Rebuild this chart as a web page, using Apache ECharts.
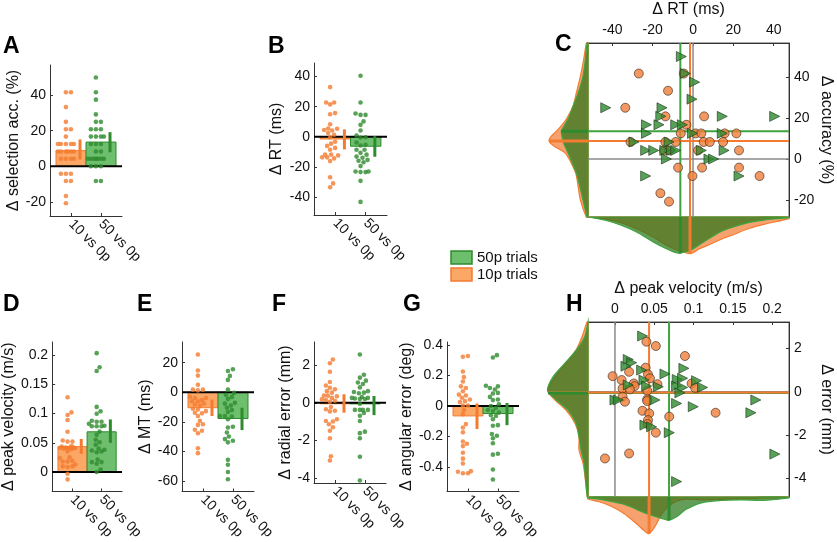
<!DOCTYPE html>
<html><head><meta charset="utf-8">
<script src="https://cdn.jsdelivr.net/npm/echarts@6/dist/echarts.min.js"></script>
<style>html,body{margin:0;padding:0;background:#fff}#c{width:837px;height:542px}</style>
</head><body><div id="c"></div>
<script>
// ---------- categories / labels ----------
const xCats = ['10 vs 0p', '50 vs 0p'];
const xCatPos = [1, 2];
const legendLabels = ['50p trials', '10p trials'];
const panelLetters = ['A', 'B', 'C', 'D', 'E', 'F', 'G', 'H'];

// ---------- Panel C data (ΔRT, Δaccuracy) ----------
const rt10 = [-26.9, -4.6, -12.4, -33.6, -13.7, 5.5, -3.3, -6.1, 1.3, 4.1, 15.7, 21.5, -31, -13.7, -8.6, 5.3, 8.3, 14.9, -14.4, -11.9, 2.5, 22.8, -7.4, 4.5, 22.8, -0.3, 33, -16.2, -11.9];
const acc10 = [41.7, 41.7, 33.3, 25, 20.8, 20.8, 16.7, 12.5, 12.5, 12.5, 12.5, 12.5, 8.3, 8.3, 8.3, 8.3, 8.3, 8.3, 4.2, 4.2, 4.2, 4.2, -4.2, -4.2, -4.2, -8.3, -8.3, -16.7, -20.8];
const rt50 = [-5.8, -3.8, 0.8, -0.5, -43.3, -15.4, -16, 14.5, 40.5, -23.1, -16.9, -8.6, -5.3, -23.1, -0.3, 14.5, -29.3, -11.9, -23.5, -19.5, -14, -10.7, -8.6, 4.1, 15.4, -13.2, 7.9, 10.2, -23.5, 22.8];
const acc50 = [50, 41.7, 37.5, 29.2, 25, 25, 20.8, 20.8, 20.8, 16.7, 16.7, 16.7, 16.7, 12.5, 12.5, 12.5, 8.3, 8.3, 4.2, 4.2, 4.2, 4.2, 4.2, 4.2, 4.2, 0, 0, 0, -8.3, -8.3];
const meanAcc = [8.8, 13.6];
const meanRT = [-1.5, -6.3];
const errAcc10 = [3.8, 15.1];
const errAcc50 = [7.9, 19.2];
const errRT10 = [-8.4, 4.9];
const errRT50 = [-13.3, 0.4];

// ---------- Panel H data (Δpeak velocity, Δerror) ----------
const pv10 = [0.040, 0.052, 0.089, -0.003, 0.039, 0.018, 0.0085, 0.042, 0.0445, 0.024, 0.025, 0.0097, 0.019, 0.054, 0.0975, 0.102, 0.041, 0.0097, 0.0127, 0.041, 0.041, 0.035, 0.0436, 0.069, 0.042, 0.0415, 0.052, 0.128, 0.018, -0.0127];
const err10 = [2.31, 2.11, 1.65, 0.72, 1.11, 0.92, 0.54, 0.8, 0.62, 0.38, 0.26, 0.15, 0.11, 0.35, 0.38, 0.18, 0.05, -0.23, -0.46, -0.35, -0.43, -0.88, -1.0, -1.15, -1.31, -1.49, -1.89, -0.97, -2.85, -3.08];
const pv50 = [0.0352, 0.0169, 0.0212, 0.014, 0.0339, 0.0877, 0.0636, 0.0792, 0.086, 0.0369, 0.1038, 0.0169, 0.0403, 0.0551, 0.0784, 0.086, 0.1114, 0.0826, 0, 0.0042, 0.0508, 0.0784, 0.0996, 0.1792, 0.1729, 0.0381, 0.0466, 0.0691, 0.2034, 0.0784];
const err50 = [2.57, 1.49, 1.34, 1.18, 1.0, 1.08, 0.82, 0.57, 0.62, 0.54, 0.51, 0.31, 0.26, 0.23, 0.26, 0.2, 0.2, -0.05, -0.38, -0.38, -0.38, -0.54, -0.69, -0.38, -0.97, -1.54, -1.62, -1.89, -2.88, -4.15];
const meanPV = [0.0434, 0.0688];
const meanErr = [-0.03, -0.06];
const errPV10 = [0.031, 0.0565];
const errPV50 = [0.05, 0.09];
const errRad10 = [-0.53, 0.45];
const errRad50 = [-0.66, 0.36];

// ---------- Panel E data (ΔMT) ----------
const mt10 = [25.6, 14.7, 11.3, 5.1, 1.8, 1.8, 1.3, -3.8, -3.1, -3.8, -5.3, -6, -6, -8.2, -8.9, -7.6, -11.6, -11.1, -12.7, -13.8, -14.2, -16, -19.3, -21.6, -22, -25.3, -26, -27.6, -37.8, -41.1];
const mt50 = [15.6, 14.4, 11.1, 8.4, 1.8, -0.4, -1.6, -3.1, -4.4, -7.1, -8.9, -7.6, -10.4, -12, -13.3, -16, -16, -16.4, -18.2, -23.8, -23.3, -27.1, -29.8, -31.6, -32.7, -33.8, -45.6, -48.9, -53.8, -58.7];
const meanMT = [-10.4, -17.7];
const errMT10 = [-16, -4.9];
const errMT50 = [-25.5, -10.4];

// ---------- Panel G data (Δangular error) ----------
const ang10 = [0.327, 0.323, 0.226, 0.189, 0.161, 0.129, 0.118, 0.097, 0.075, 0.054, 0.069, 0.043, 0.032, 0.026, 0.004, 0.004, -0.026, -0.054, -0.118, -0.14, -0.172, -0.232, -0.247, -0.262, -0.305, -0.344, -0.376, -0.43, -0.44, -0.426, -0.44];
const ang50 = [0.333, 0.318, 0.118, 0.108, 0.133, 0.129, 0.082, 0.086, 0.06, 0.039, 0.043, 0.011, 0, -0.011, -0.026, -0.032, -0.043, -0.06, -0.065, -0.086, -0.125, -0.129, -0.183, -0.194, -0.211, -0.243, -0.312, -0.318, -0.415, -0.48];
const meanAng = [-0.0645, -0.049];
const errAng10 = [-0.15, 0.017];
const errAng50 = [-0.125, 0.02];

// ---------- marginal densities ----------
const densRtPos = [-52, -44, -36, -28, -20, -14, -8, -4, -1, 3, 8, 14, 20, 28, 36, 47.6];
const densRt10 = [0, 1.8, 5.5, 11.8, 19.8, 27.3, 33, 35.5, 36.5, 32, 27.7, 22.2, 17.7, 11.3, 6.8, 1.7];
const densRt50 = [0, 3, 8, 15, 24.7, 31, 36, 35, 33, 28, 21.5, 14.4, 10, 5.4, 2.8, 0.7];
const densAccPos = [56.6, 48, 40, 32, 26, 20, 16, 13.6, 11, 8.8, 6, 3, -2, -7, -13, -20, -28.3];
const densAcc10 = [1.5, 4.5, 7.8, 11.8, 14.8, 21, 27, 31.5, 36.8, 39, 33, 23, 16.7, 12.2, 10, 7.6, 1.7];
const densAcc50 = [1, 2.8, 5.2, 10, 14.8, 19.5, 24, 26.7, 26, 25, 22.8, 20, 15.7, 11.6, 8.4, 5, 1];
const densPvPos = [-0.0343, -0.02, -0.005, 0.01, 0.02, 0.03, 0.037, 0.043, 0.05, 0.056, 0.062, 0.068, 0.078, 0.09, 0.11, 0.135, 0.16, 0.19, 0.2214];
const densPv10 = [2, 4.8, 9.2, 15.7, 21.7, 28.5, 33.5, 36.7, 30.6, 21.9, 14.5, 9.3, 4.3, 2.1, 2.8, 2.3, 1.6, 1.0, 0.5];
const densPv50 = [1, 2.2, 4.3, 7, 9.8, 13.4, 15.6, 17.5, 19.2, 20.7, 22, 23.3, 20.1, 12.6, 5.8, 3.5, 3, 3.3, 1];
const densErrPos = [3.22, 2.54, 1.92, 1.31, 0.69, 0.23, 0, -0.38, -0.85, -1.46, -2.08, -2.69, -3.3, -3.92, -4.86];
const densErr10 = [1, 6, 12, 22, 33, 39, 40, 33, 22, 13, 9, 9, 5, 3, 0.7];
const densErr50 = [0, 3.3, 11.7, 23.3, 35, 40, 40, 31.7, 20, 12, 9, 7, 4, 2.7, 0.7];
const cBotMeanDepth = [36.5, 36.5];
const cLeftMeanDepth = [39, 26.7];
const hBotMeanDepth = [36.7, 23.3];
const hLeftMeanDepth = [40, 40];

// ---------- tick labels ----------
const ticksAcc = [-20, 0, 20, 40];
const ticksRT = [-40, -20, 0, 20, 40];
const ticksPV = [0, 0.05, 0.1, 0.15, 0.2];
const ticksMT = [-60, -40, -20, 0, 20];
const ticksRad = [-4, -2, 0, 2];
const ticksAng = [-0.4, -0.2, 0, 0.2, 0.4];

// ---------- styles ----------
const FONT = '"Liberation Sans", Arial, Helvetica, sans-serif';
const OR = '#F47B30', GR = '#2E8B2E';
const OR_BAR = '#FBA766', GR_BAR = '#6DBE6D';
const OR_LINE = '#F47B30', GR_LINE = '#3FA33F';
const OR_FILL = 'rgba(244,123,48,0.7)', GR_FILL = 'rgba(40,118,26,0.72)';

const grid = [], xAxis = [], yAxis = [], series = [];
function addGrid(r, extra) { grid.push(Object.assign({ left: r.left, top: r.top, width: r.width, height: r.height }, extra || {})); return grid.length - 1; }
const lbl = (m) => ({ color: '#111', fontSize: 14, fontFamily: FONT, margin: m });
const axLine = { show: true, onZero: false, lineStyle: { color: '#333', width: 1 } };
const tick = (vals) => ({ show: true, inside: true, length: 3, customValues: vals, lineStyle: { color: '#333' } });
const nameStyle = { fontSize: 16, color: '#111', fontFamily: FONT };

// horizontal spread of dots (plotSpread-like), limited to +/- maxOff px
function swarm(vals, center, yRange, hPx, xRange, wPx) {
  const ypp = yRange / hPx, xpp = xRange / wPx, d = 4.4, maxOff = 8;
  const order = vals.map((v, i) => i).sort((a, b) => vals[a] - vals[b]);
  const placed = []; const res = new Array(vals.length);
  order.forEach(i => {
    const y = vals[i] / ypp; let ox = null, bestO = 0, bestD = -1;
    for (let k = 0; k <= 2 * maxOff; k++) {
      const o = (k % 2 === 1 ? 1 : -1) * Math.ceil(k / 2);
      const md = placed.reduce((m, p) => Math.min(m, Math.hypot(p[0] - o, p[1] - y)), Infinity);
      if (md >= d) { ox = o; break; }
      if (md > bestD) { bestD = md; bestO = o; }
    }
    if (ox === null) ox = bestO;
    placed.push([ox, y]); res[i] = [center + ox * xpp, vals[i]];
  });
  return res;
}

// ---------- bar panels A, B, D, E, F, G ----------
const X0 = 0.3, X1 = 2.7;
const barDefs = [
  { rect: { left: 50, top: 65, width: 72, height: 151 }, yr: [-28, 57], ticks: ticksAcc, name: 'Δ selection acc. (%)', gap: 28, v10: acc10, v50: acc50, mean: meanAcc, e10: errAcc10, e50: errAcc50 },
  { rect: { left: 314, top: 63, width: 73, height: 152 }, yr: [-52, 49], ticks: ticksRT, name: 'Δ RT (ms)', gap: 29, v10: rt10, v50: rt50, mean: meanRT, e10: errRT10, e50: errRT50 },
  { rect: { left: 50, top: 342, width: 72, height: 151 }, yr: [-0.0334, 0.2225], ticks: ticksPV, name: 'Δ peak velocity (m/s)', gap: 32, v10: pv10, v50: pv50, mean: meanPV, e10: errPV10, e50: errPV50 },
  { rect: { left: 182, top: 342, width: 72, height: 151 }, yr: [-67, 34], ticks: ticksMT, name: 'Δ MT (ms)', gap: 27, v10: mt10, v50: mt50, mean: meanMT, e10: errMT10, e50: errMT50 },
  { rect: { left: 314, top: 342, width: 72, height: 141 }, yr: [-4.28, 3.24], ticks: ticksRad, name: 'Δ radial error (mm)', gap: 13, v10: err10, v50: err50, mean: meanErr, e10: errRad10, e50: errRad50 },
  { rect: { left: 447, top: 342, width: 72, height: 151 }, yr: [-0.559, 0.419], ticks: ticksAng, name: 'Δ angular error (deg)', gap: 27, v10: ang10, v50: ang50, mean: meanAng, e10: errAng10, e50: errAng50 }
];
barDefs.forEach(p => {
  const gi = addGrid(p.rect);
  xAxis.push({ gridIndex: gi, type: 'value', min: X0, max: X1, position: 'bottom', axisLine: axLine, axisTick: tick(xCatPos),
    axisLabel: Object.assign(lbl(6), { customValues: xCatPos, rotate: -45, formatter: v => xCats[Math.round(v) - 1] }), splitLine: { show: false } });
  yAxis.push({ gridIndex: gi, type: 'value', min: p.yr[0], max: p.yr[1], position: 'left', name: p.name, nameLocation: 'middle', nameGap: p.gap,
    nameTextStyle: nameStyle, axisLine: axLine, axisTick: tick(p.ticks), axisLabel: Object.assign(lbl(4), { customValues: p.ticks }), splitLine: { show: false } });
  const ax = { xAxisIndex: gi, yAxisIndex: gi };
  series.push(Object.assign({ type: 'custom', z: 2, silent: true, clip: false,
    data: xCatPos.map((x, i) => [x, p.mean[i]]),
    renderItem: (params, api) => {
      const x = api.value(0), v = api.value(1);
      const a = api.coord([x - 0.5, 0]), b = api.coord([x + 0.5, v]);
      const i = params.dataIndex;
      return { type: 'rect', shape: { x: Math.min(a[0], b[0]), y: Math.min(a[1], b[1]), width: Math.abs(b[0] - a[0]), height: Math.max(1, Math.abs(b[1] - a[1])) },
        style: { fill: i === 0 ? OR_BAR : GR_BAR, stroke: i === 0 ? OR : GR, lineWidth: 1 } };
    } }, ax));
  series.push(Object.assign({ type: 'line', z: 3, silent: true, showSymbol: false, data: [[X0, 0], [X1, 0]], lineStyle: { color: '#000', width: 2 } }, ax));
  const yR = p.yr[1] - p.yr[0];
  series.push(Object.assign({ type: 'scatter', z: 4, silent: true, symbolSize: 4.6, itemStyle: { color: OR }, data: swarm(p.v10, 0.83, yR, p.rect.height, X1 - X0, p.rect.width) }, ax));
  series.push(Object.assign({ type: 'scatter', z: 4, silent: true, symbolSize: 4.6, itemStyle: { color: GR }, data: swarm(p.v50, 1.83, yR, p.rect.height, X1 - X0, p.rect.width) }, ax));
  series.push(Object.assign({ type: 'custom', z: 5, silent: true, clip: false,
    data: [[1.3, p.e10[0], p.e10[1]], [2.3, p.e50[0], p.e50[1]]],
    renderItem: (params, api) => {
      const x = api.value(0); const a = api.coord([x, api.value(1)]), b = api.coord([x, api.value(2)]);
      return { type: 'line', shape: { x1: a[0], y1: a[1], x2: b[0], y2: b[1] }, style: { stroke: params.dataIndex === 0 ? OR : GR, lineWidth: 3 } };
    } }, ax));
});

// ---------- scatter panels C and H with marginals ----------
function densitySeries(gi, posArr, densArr, vertical, fill, stroke) {
  return { type: 'custom', xAxisIndex: gi, yAxisIndex: gi, silent: true, clip: false, z: 2, data: [[0, 0]],
    renderItem: (params, api) => {
      const pts = posArr.map((p, i) => vertical ? api.coord([densArr[i], p]) : api.coord([p, densArr[i]]));
      const first = posArr[0], last = posArr[posArr.length - 1];
      const base = [];
      for (let k = 0; k <= 6; k++) { const q = last + (first - last) * k / 6; base.push(vertical ? api.coord([0, q]) : api.coord([q, 0])); }
      return { type: 'polygon', shape: { points: pts.concat(base), smooth: 0.3 }, style: { fill: fill, stroke: stroke, lineWidth: 1.2 } };
    } };
}
function lineSeries(gi, data, color, width, z) {
  return { type: 'line', xAxisIndex: gi, yAxisIndex: gi, silent: true, showSymbol: false, z: z || 2, data: data, lineStyle: { color: color, width: width } };
}

function scatterPanel(cfg) {
  const gm = addGrid(cfg.rect, { show: true, borderColor: '#555', borderWidth: 1 });
  xAxis.push({ gridIndex: gm, type: 'value', min: cfg.xr[0], max: cfg.xr[1], position: 'top', name: cfg.xName, nameLocation: 'middle', nameGap: cfg.xGap,
    nameTextStyle: nameStyle, axisLine: axLine, axisTick: tick(cfg.xTicks), axisLabel: Object.assign(lbl(6), { customValues: cfg.xTicks }), splitLine: { show: false } });
  yAxis.push({ gridIndex: gm, type: 'value', min: cfg.yr[0], max: cfg.yr[1], position: 'right', name: cfg.yName, nameLocation: 'middle', nameRotate: -90, nameGap: cfg.yGap,
    nameTextStyle: nameStyle, axisLine: axLine, axisTick: tick(cfg.yTicks), axisLabel: Object.assign(lbl(5), { customValues: cfg.yTicks }), splitLine: { show: false } });
  const r = cfg.rect;
  const gl = addGrid({ left: r.left - 43, top: r.top, width: 43, height: r.height });
  xAxis.push({ gridIndex: gl, type: 'value', min: 0, max: 43, inverse: true, show: false });
  yAxis.push({ gridIndex: gl, type: 'value', min: cfg.yr[0], max: cfg.yr[1], show: false });
  const gb = addGrid({ left: r.left, top: r.top + r.height, width: r.width, height: 43 });
  xAxis.push({ gridIndex: gb, type: 'value', min: cfg.xr[0], max: cfg.xr[1], show: false });
  yAxis.push({ gridIndex: gb, type: 'value', min: 0, max: 43, inverse: true, show: false });

  series.push(lineSeries(gm, [[0, cfg.yr[0]], [0, cfg.yr[1]]], '#8a8a8a', 1.5));
  series.push(lineSeries(gm, [[cfg.xr[0], 0], [cfg.xr[1], 0]], '#8a8a8a', 1.5));
  series.push(lineSeries(gm, [[cfg.mx[1], cfg.yr[0]], [cfg.mx[1], cfg.yr[1]]], GR_LINE, 2));
  series.push(lineSeries(gm, [[cfg.xr[0], cfg.my[1]], [cfg.xr[1], cfg.my[1]]], GR_LINE, 2));
  series.push(lineSeries(gm, [[cfg.mx[0], cfg.yr[0]], [cfg.mx[0], cfg.yr[1]]], OR_LINE, 2));
  series.push(lineSeries(gm, [[cfg.xr[0], cfg.my[0]], [cfg.xr[1], cfg.my[0]]], OR_LINE, 2));
  series.push({ type: 'scatter', xAxisIndex: gm, yAxisIndex: gm, z: 4, silent: true, symbol: 'circle', symbolSize: 9,
    itemStyle: { color: '#F07E38', borderColor: '#3b2a1e', borderWidth: 0.8 }, data: cfg.x10.map((x, i) => [x, cfg.y10[i]]) });
  series.push({ type: 'scatter', xAxisIndex: gm, yAxisIndex: gm, z: 4, silent: true, symbol: 'triangle', symbolRotate: -90, symbolSize: [10, 10],
    itemStyle: { color: '#2F8A2F', borderColor: '#1c3a1c', borderWidth: 0.8 }, data: cfg.x50.map((x, i) => [x, cfg.y50[i]]) });

  series.push(densitySeries(gl, cfg.dyPos, cfg.dy10, true, OR_FILL, OR_LINE));
  series.push(densitySeries(gl, cfg.dyPos, cfg.dy50, true, GR_FILL, GR_LINE));
  series.push(lineSeries(gl, [[0, cfg.my[0]], [cfg.dyMean[0], cfg.my[0]]], OR, 3, 3));
  series.push(lineSeries(gl, [[0, cfg.my[1]], [cfg.dyMean[1], cfg.my[1]]], GR, 3, 3));
  series.push(densitySeries(gb, cfg.dxPos, cfg.dx10, false, OR_FILL, OR_LINE));
  series.push(densitySeries(gb, cfg.dxPos, cfg.dx50, false, GR_FILL, GR_LINE));
  series.push(lineSeries(gb, [[cfg.mx[0], 0], [cfg.mx[0], cfg.dxMean[0]]], OR, 3, 3));
  series.push(lineSeries(gb, [[cfg.mx[1], 0], [cfg.mx[1], cfg.dxMean[1]]], GR, 3, 3));
}

scatterPanel({ rect: { left: 588, top: 43, width: 201, height: 174 }, xr: [-52.1, 47.6], yr: [-28.3, 56.6],
  xName: 'Δ RT (ms)', xGap: 25, yName: 'Δ accuracy (%)', yGap: 28, xTicks: ticksRT, yTicks: ticksAcc,
  x10: rt10, y10: acc10, x50: rt50, y50: acc50, mx: meanRT, my: meanAcc,
  dyPos: densAccPos, dy10: densAcc10, dy50: densAcc50, dyMean: cLeftMeanDepth,
  dxPos: densRtPos, dx10: densRt10, dx50: densRt50, dxMean: cBotMeanDepth });
scatterPanel({ rect: { left: 588, top: 322, width: 201, height: 175 }, xr: [-0.0343, 0.2214], yr: [-4.86, 3.22],
  xName: 'Δ peak velocity (m/s)', xGap: 25, yName: 'Δ error (mm)', yGap: 29, xTicks: ticksPV, yTicks: ticksRad,
  x10: pv10, y10: err10, x50: pv50, y50: err50, mx: meanPV, my: meanErr,
  dyPos: densErrPos, dy10: densErr10, dy50: densErr50, dyMean: hLeftMeanDepth,
  dxPos: densPvPos, dx10: densPv10, dx50: densPv50, dxMean: hBotMeanDepth });

// ---------- letters and legend ----------
const letterPos = [[3, 47], [268, 47], [555, 45], [3, 305], [137, 305], [272, 305], [403, 305], [566, 305]];
const graphic = panelLetters.map((t, i) => ({ type: 'text', x: letterPos[i][0], y: letterPos[i][1], silent: true,
  style: { text: t, fill: '#000', font: 'bold 23px ' + FONT, textAlign: 'left', textVerticalAlign: 'middle' } }));
const legFill = [GR_BAR, OR_BAR], legStroke = [GR, OR];
legendLabels.forEach((t, i) => {
  const y = 251 + i * 17;
  graphic.push({ type: 'rect', silent: true, shape: { x: 451, y: y, width: 21, height: 13 }, style: { fill: legFill[i], stroke: legStroke[i], lineWidth: 1.5 } });
  graphic.push({ type: 'text', silent: true, x: 477, y: y + 6.5, style: { text: t, fill: '#111', font: '15px ' + FONT, textAlign: 'left', textVerticalAlign: 'middle' } });
});

const chart = echarts.init(document.getElementById('c'), null, { renderer: 'canvas' });
chart.setOption({ animation: false, backgroundColor: '#fff', textStyle: { fontFamily: FONT }, grid, xAxis, yAxis, series, graphic });
</script></body></html>
